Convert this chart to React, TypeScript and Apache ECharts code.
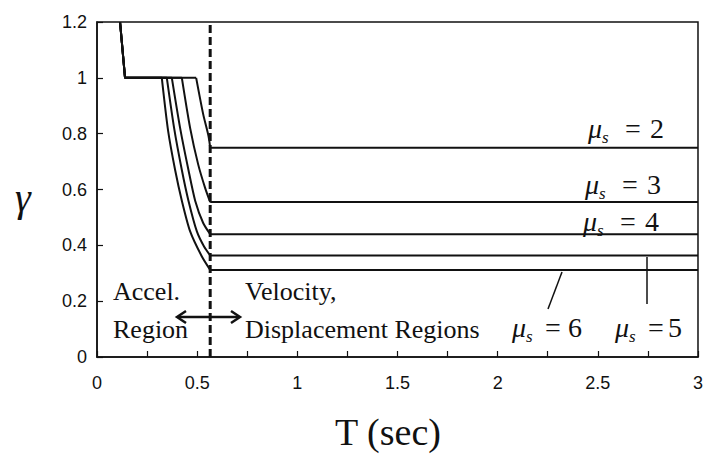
import React, { useEffect, useRef } from "react";
import * as echarts from "echarts";

// Tick labels
const xTicks = [0, 0.5, 1, 1.5, 2, 2.5, 3];
const yTicks = [0, 0.2, 0.4, 0.6, 0.8, 1, 1.2];

// Period boundary between acceleration and velocity/displacement regions
const boundaryT = 0.565;
const boundaryY = [0, 1.2];

// gamma vs T curves for each ductility mu_s  ([T, gamma])
const mu2 = [[0.115, 1.2], [0.14, 1.0], [0.495, 1.0], [0.53, 0.87], [0.557, 0.79], [0.565, 0.75], [3, 0.75]];
const mu3 = [[0.115, 1.2], [0.14, 1.0], [0.4235, 1.0], [0.465, 0.82], [0.505, 0.69], [0.54, 0.605], [0.565, 0.555], [3, 0.555]];
const mu4 = [[0.115, 1.2], [0.14, 1.0], [0.3735, 1.0], [0.415, 0.82], [0.4565, 0.67], [0.49, 0.56], [0.53, 0.48], [0.565, 0.44], [3, 0.44]];
const mu5 = [[0.115, 1.2], [0.14, 1.0], [0.3485, 1.0], [0.385, 0.82], [0.4235, 0.67], [0.4565, 0.56], [0.4985, 0.45], [0.535, 0.395], [0.565, 0.364], [3, 0.364]];
const mu6 = [[0.115, 1.2], [0.14, 1.0], [0.3235, 1.0], [0.355, 0.81], [0.39, 0.67], [0.4235, 0.56], [0.465, 0.45], [0.5235, 0.36], [0.565, 0.312], [3, 0.312]];

const muNames = ["2", "3", "4", "5", "6"];
const muSeries = [mu2, mu3, mu4, mu5, mu6];

const SERIF = "'Liberation Serif', 'Times New Roman', serif";
const SANS = "'Liberation Sans', Arial, sans-serif";

function txt(text: string, x: number, baseline: number, size: number, opts: any = {}) {
  return {
    type: "text",
    x,
    y: baseline - 0.34 * size,
    silent: true,
    style: {
      text,
      fontSize: size,
      fontFamily: opts.fontFamily || SERIF,
      fontStyle: opts.italic ? "italic" : "normal",
      fill: "#111",
      align: opts.align || "left",
      verticalAlign: "middle",
    },
  };
}

function muLabel(x: number, baseline: number, value: string, eqGap: number, numGap: number) {
  return [
    txt("\u03bc", x, baseline, 28, { italic: true }),
    txt("s", x + 14, baseline + 5, 17, { italic: true }),
    txt("=", x + eqGap, baseline, 28),
    txt(value, x + numGap, baseline, 28),
  ];
}

export default function App() {
  const ref = useRef<HTMLDivElement>(null);
  useEffect(() => {
    if (!ref.current) return;
    const chart = echarts.init(ref.current, undefined, { renderer: "svg" });
    const base = { type: "line", showSymbol: false, symbol: "none", lineStyle: { color: "#111", width: 2 }, z: 3 };
    const series: any[] = [];
    muSeries.forEach((d, i) => {
      const n = d.length;
      series.push({ ...base, name: "mu=" + muNames[i] + " top", data: d.slice(0, 3) });
      series.push({ ...base, name: "mu=" + muNames[i], data: d.slice(2, n - 1), smooth: 0.25 });
      series.push({ ...base, name: "mu=" + muNames[i] + " plateau", data: d.slice(n - 2) });
    });
    series.push({
      name: "boundary",
      type: "line",
      data: boundaryY.map((y) => [boundaryT, y]),
      showSymbol: false,
      symbol: "none",
      lineStyle: { color: "#111", width: 3, type: [8, 4] },
      z: 4,
    });
    const graphic: any[] = [
      txt("\u03b3", 15, 211, 40, { italic: true }),
      txt("T (sec)", 388, 445, 38, { align: "center" }),
      txt("Accel.", 113, 300, 26),
      txt("Region", 113, 338, 26),
      txt("Velocity,", 245, 300, 26),
      txt("Displacement Regions", 245, 338, 26),
      { type: "line", shape: { x1: 178, y1: 317, x2: 239, y2: 317 }, style: { stroke: "#111", lineWidth: 2.5 } },
      { type: "polyline", shape: { points: [[186, 311], [177, 317], [186, 323]] }, style: { stroke: "#111", lineWidth: 2.5, fill: "none" } },
      { type: "polyline", shape: { points: [[231, 311], [240, 317], [231, 323]] }, style: { stroke: "#111", lineWidth: 2.5, fill: "none" } },
      { type: "line", shape: { x1: 562, y1: 272, x2: 548, y2: 309 }, style: { stroke: "#111", lineWidth: 1.5 } },
      { type: "line", shape: { x1: 647, y1: 257, x2: 647, y2: 304 }, style: { stroke: "#111", lineWidth: 1.5 } },
      ...muLabel(588, 138, muNames[0], 37, 62),
      ...muLabel(585, 194, muNames[1], 37, 62),
      ...muLabel(583, 231, muNames[2], 37, 62),
      ...muLabel(615, 337, muNames[3], 33, 53),
      ...muLabel(512, 337, muNames[4], 33, 56),
    ];
    chart.setOption({
      animation: false,
      backgroundColor: "#fff",
      grid: { left: 97, right: 8, top: 22, bottom: 100, show: true, borderColor: "#111", borderWidth: 1.5, backgroundColor: "transparent" },
      xAxis: {
        type: "value",
        min: 0,
        max: 3,
        interval: 0.25,
        axisLine: { show: true, lineStyle: { color: "#111", width: 1.5 } },
        axisTick: { show: true, inside: true, length: 6, lineStyle: { color: "#111", width: 1.2 } },
        splitLine: { show: false },
        axisLabel: {
          margin: 17,
          fontSize: 18,
          fontFamily: SANS,
          color: "#111",
          formatter: (v: number) => {
            const t = xTicks.find((k) => Math.abs(k - v) < 1e-6);
            return t === undefined ? "" : String(t);
          },
        },
      },
      yAxis: {
        type: "value",
        min: 0,
        max: 1.2,
        interval: 0.2,
        axisLine: { show: true, lineStyle: { color: "#111", width: 1.5 } },
        axisTick: { show: true, inside: true, length: 6, lineStyle: { color: "#111", width: 1.2 } },
        splitLine: { show: false },
        axisLabel: {
          margin: 10,
          fontSize: 18,
          fontFamily: SANS,
          color: "#111",
          formatter: (v: number) => {
            const t = yTicks.find((k) => Math.abs(k - v) < 1e-6);
            return t === undefined ? "" : String(t);
          },
        },
      },
      series,
      graphic,
    });
    return () => chart.dispose();
  }, []);
  return <div ref={ref} style={{ position: "fixed", left: 0, top: 0, width: 706, height: 457 }} />;
}
